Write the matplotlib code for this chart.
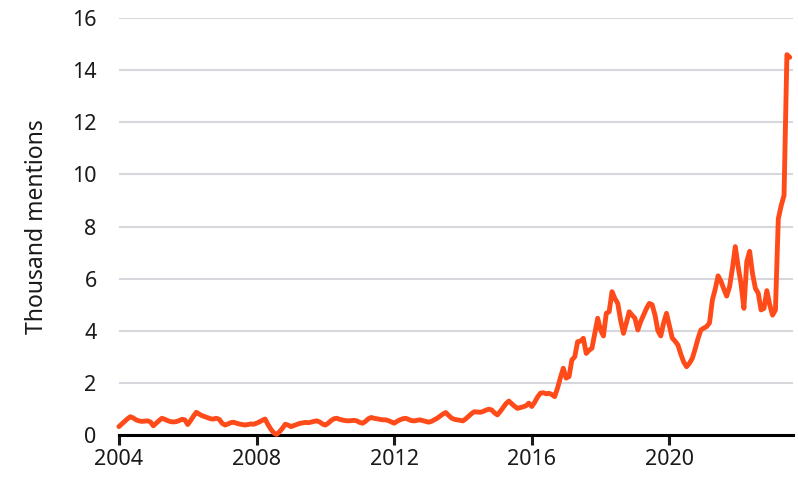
import matplotlib
matplotlib.use("Agg")
import matplotlib.pyplot as plt
import numpy as np

# Monthly mentions (thousands), Jan 2004 - Jul 2023
y2004 = [0.32, 0.42, 0.52, 0.62, 0.70, 0.65, 0.58, 0.54, 0.52, 0.53, 0.54, 0.50]
y2005 = [0.35, 0.45, 0.55, 0.64, 0.60, 0.55, 0.51, 0.50, 0.51, 0.55, 0.60, 0.58]
y2006 = [0.40, 0.55, 0.72, 0.87, 0.80, 0.74, 0.70, 0.66, 0.62, 0.61, 0.64, 0.60]
y2007 = [0.45, 0.38, 0.42, 0.47, 0.49, 0.45, 0.42, 0.40, 0.38, 0.40, 0.42, 0.41]
y2008 = [0.45, 0.50, 0.56, 0.61, 0.40, 0.22, 0.08, 0.02, 0.12, 0.25, 0.41, 0.38]
y2009 = [0.32, 0.36, 0.40, 0.44, 0.46, 0.48, 0.47, 0.49, 0.52, 0.54, 0.50, 0.42]
y2010 = [0.38, 0.45, 0.55, 0.62, 0.64, 0.60, 0.57, 0.55, 0.54, 0.55, 0.56, 0.54]
y2011 = [0.48, 0.45, 0.52, 0.62, 0.67, 0.64, 0.62, 0.60, 0.58, 0.58, 0.55, 0.50]
y2012 = [0.45, 0.52, 0.58, 0.62, 0.64, 0.60, 0.55, 0.54, 0.56, 0.58, 0.55, 0.52]
y2013 = [0.49, 0.52, 0.58, 0.64, 0.72, 0.80, 0.86, 0.75, 0.65, 0.60, 0.58, 0.56]
y2014 = [0.54, 0.62, 0.72, 0.82, 0.89, 0.88, 0.87, 0.90, 0.95, 0.99, 0.96, 0.85]
y2015 = [0.77, 0.90, 1.05, 1.20, 1.30, 1.20, 1.10, 1.02, 1.05, 1.08, 1.12, 1.22]
y2016 = [1.09, 1.25, 1.45, 1.60, 1.62, 1.58, 1.60, 1.55, 1.47, 1.80, 2.20, 2.56]
y2017 = [2.18, 2.24, 2.88, 3.00, 3.58, 3.60, 3.71, 3.13, 3.25, 3.33, 3.90, 4.48]
y2018 = [4.03, 3.80, 4.67, 4.73, 5.50, 5.24, 5.05, 4.40, 3.90, 4.30, 4.73, 4.60]
y2019 = [4.48, 4.03, 4.35, 4.60, 4.85, 5.05, 5.00, 4.60, 4.00, 3.80, 4.30, 4.67]
y2020 = [4.20, 3.72, 3.60, 3.45, 3.10, 2.80, 2.62, 2.75, 2.94, 3.30, 3.70, 4.03]
y2021 = [4.10, 4.16, 4.30, 5.18, 5.60, 6.11, 5.90, 5.60, 5.33, 5.69, 6.40, 7.23]
y2022 = [6.46, 5.80, 4.86, 6.65, 7.05, 6.20, 5.63, 5.44, 4.80, 4.86, 5.54, 5.00]
y2023 = [4.60, 4.80, 8.30, 8.80, 9.20, 14.60, 14.50]

values = (y2004 + y2005 + y2006 + y2007 + y2008 + y2009 + y2010 + y2011 + y2012
          + y2013 + y2014 + y2015 + y2016 + y2017 + y2018 + y2019 + y2020
          + y2021 + y2022 + y2023)
months = 2004 + np.arange(len(values)) / 12.0

xticks = [2004, 2008, 2012, 2016, 2020]
yticks = [0, 2, 4, 6, 8, 10, 12, 14, 16]

plt.rcParams['font.family'] = ['Noto Sans', 'DejaVu Sans']

fig = plt.figure(figsize=(7.98, 4.79), dpi=100)
ax = fig.add_axes([0.149, 0.092, 0.845, 0.870])

ax.plot(months, values, color='#ff4b19', lw=3.5, solid_joinstyle='round',
        solid_capstyle='round', zorder=5, clip_on=False)

ax.set_xlim(2004, 2023.6)
ax.set_ylim(0, 16)
ax.set_yticks(yticks)
ax.set_xticks(xticks)
ax.grid(axis='y', color='#d6d6dd', lw=1.5)
ax.set_axisbelow(True)

for s in ['top', 'right', 'left']:
    ax.spines[s].set_visible(False)
ax.spines['bottom'].set_linewidth(2.2)
ax.spines['bottom'].set_color('black')
ax.spines['bottom'].set_zorder(3)

ax.tick_params(axis='y', length=0, labelsize=15.5, pad=16, colors='#1a1a1a')
ax.tick_params(axis='x', length=7, width=2.2, labelsize=15.5, pad=3, colors='#1a1a1a')
ax.set_ylabel('Thousand mentions', fontsize=16.5, color='#1a1a1a', labelpad=17)

fig.savefig('out.png', dpi=100)
